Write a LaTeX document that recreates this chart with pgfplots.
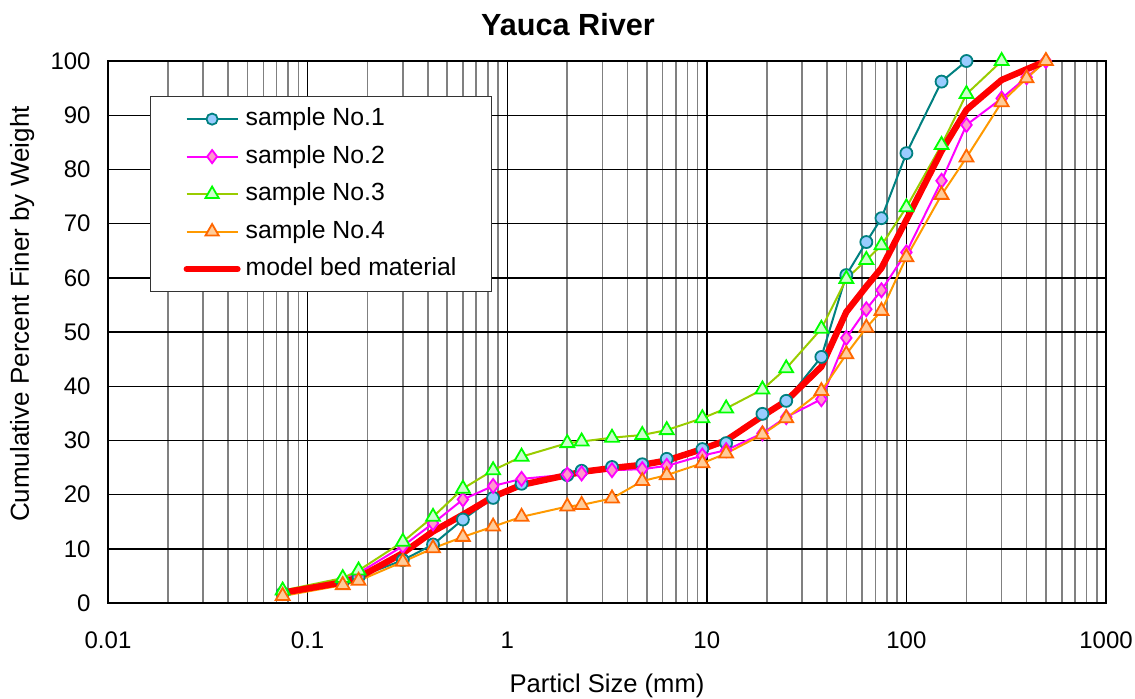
\documentclass[border=0pt]{standalone}
\usepackage{pgfplots}
\pgfplotsset{compat=1.18}
\usepackage{pgfplotstable}
\usepackage{fontspec}
\setmainfont{Liberation Sans}

\definecolor{oneL}{HTML}{008080}
\definecolor{oneF}{HTML}{99CCFF}
\definecolor{twoL}{HTML}{FF00FF}
\definecolor{twoF}{HTML}{FF99CC}
\definecolor{thrL}{HTML}{99CC00}
\definecolor{thrE}{HTML}{00FF00}
\definecolor{thrF}{HTML}{CCFFCC}
\definecolor{fouL}{HTML}{FF9900}
\definecolor{fouE}{HTML}{FF6600}
\definecolor{fouF}{HTML}{FFCC99}
\definecolor{gridgray}{HTML}{808080}

\pgfplotstableread{
x y
0.075 1.8
0.15 3.9
0.18 4.8
0.3 7.9
0.425 10.8
0.6 15.4
0.85 19.4
1.18 22.0
2 23.6
2.36 24.4
3.35 25.1
4.75 25.6
6.3 26.6
9.5 28.4
12.5 29.5
19 34.9
25 37.3
37.5 45.4
50 60.5
63 66.6
75 71.0
100 83.0
150 96.2
200 100
}\sone

\pgfplotstableread{
x y
0.075 1.9
0.15 4.3
0.18 5.5
0.3 10.5
0.425 14.7
0.6 19.1
0.85 21.6
1.18 22.9
2 23.7
2.36 23.9
3.35 24.5
4.75 24.7
6.3 25.3
9.5 27.2
12.5 28.2
19 31.3
25 34.3
37.5 37.6
50 48.9
63 54.2
75 57.7
100 64.7
150 77.9
200 88.2
300 93.1
400 97.0
500 100
}\stwo

\pgfplotstableread{
x y
0.075 2.3
0.15 4.6
0.18 6.0
0.3 11.3
0.425 15.9
0.6 21.1
0.85 24.5
1.18 27.0
2 29.5
2.36 29.8
3.35 30.5
4.75 31.0
6.3 31.9
9.5 34.1
12.5 35.9
19 39.4
25 43.3
37.5 50.6
50 59.8
63 63.3
75 66.0
100 73.0
150 84.5
200 93.9
300 100
}\sthree

\pgfplotstableread{
x y
0.075 1.3
0.15 3.3
0.18 4.1
0.3 7.6
0.425 10.1
0.6 12.2
0.85 14.1
1.18 15.9
2 17.8
2.36 18.1
3.35 19.3
4.75 22.5
6.3 23.6
9.5 25.8
12.5 27.6
19 31.1
25 34.1
37.5 39.1
50 45.9
63 50.8
75 53.9
100 63.8
150 75.3
200 82.2
300 92.4
400 96.8
500 100
}\sfour

\pgfplotstableread{
x y
0.075 1.9
0.15 3.8
0.18 4.7
0.3 9.2
0.425 13.2
0.6 16.3
0.85 19.6
1.18 21.8
2 23.6
2.36 24.2
3.35 24.9
4.75 25.5
6.3 26.3
9.5 28.4
12.5 30.0
19 34.5
25 37.3
37.5 43.6
50 53.7
63 58.4
75 61.8
100 70.7
150 83.4
200 91.0
300 96.5
500 100
}\smodel

\begin{document}
\begin{tikzpicture}
\begin{axis}[
  name=ax,
  scale only axis,
  width=499pt, height=271pt,
  xmode=log, log basis x=10,
  xmin=0.01, xmax=1000, ymin=0, ymax=100,
  xtick={0.01,0.1,1,10,100,1000},
  xticklabels={0.01,0.1,1,10,100,1000},
  minor xtick={0.02,0.03,0.04,0.05,0.06,0.07,0.08,0.09,
               0.2,0.3,0.4,0.5,0.6,0.7,0.8,0.9,
               2,3,4,5,6,7,8,9,
               20,30,40,50,60,70,80,90,
               200,300,400,500,600,700,800,900},
  ytick={0,10,...,100},
  minor y tick num=0,
  grid=both,
  major grid style={black, line width=0.7pt},
  minor grid style={gridgray, line width=0.8pt},
  axis line style={black, line width=1pt},
  major tick length=0pt, minor tick length=0pt,
  /pgf/number format/assume math mode=true,
  ticklabel style={font=\fontsize{12}{14}\selectfont, inner sep=0pt},
  xticklabel style={anchor=base, yshift=-22.5pt},
  yticklabel style={anchor=east, xshift=-8.5pt},
  title={Yauca River},
  title style={at={(axis description cs:0.4609,1)}, anchor=base, yshift=7pt, font=\bfseries\fontsize{15.3}{18}\selectfont, inner sep=0pt},
  xlabel={Particl Size (mm)},
  xlabel style={at={(axis description cs:0.5,0)}, anchor=base, yshift=-44.5pt, font=\fontsize{12.8}{15}\selectfont, inner sep=0pt},
  ylabel={Cumulative Percent Finer by Weight},
  ylabel style={at={(axis description cs:-0.0792,0.533)}, anchor=base, font=\fontsize{13}{15}\selectfont, inner sep=0pt},
  clip=false,
  legend image code/.code={\draw[mark repeat=2,mark phase=2] plot coordinates {(0pt,0pt)(12.75pt,0pt)(25.5pt,0pt)};},
  legend style={at={(axis description cs:0.0421,0.9354)}, anchor=north west,
    draw=black!80, line width=0.6pt, fill=white,
    inner xsep=16.5pt, inner ysep=4.5pt, row sep=5.25pt,
    font=\fontsize{12.4}{14}\selectfont,
    nodes={inner sep=1pt, text height=9pt, text depth=2.5pt},
    /tikz/every odd column/.append style={column sep=1.5pt}},
  legend cell align=left,
]
% legend entries
\addlegendimage{oneL, line width=1pt, mark=*, mark size=2.8pt, mark options={fill=oneF, draw=oneL, line width=0.9pt}}
\addlegendentry{sample No.1}
\addlegendimage{twoL, line width=1pt, mark=diamond*, mark size=3.3pt, mark options={fill=twoF, draw=twoL, line width=0.9pt}}
\addlegendentry{sample No.2}
\addlegendimage{thrL, line width=1pt, mark=triangle*, mark size=3.8pt, mark options={fill=thrF, draw=thrE, line width=0.9pt}}
\addlegendentry{sample No.3}
\addlegendimage{fouL, line width=1pt, mark=triangle*, mark size=3.8pt, mark options={fill=fouF, draw=fouE, line width=0.9pt}}
\addlegendentry{sample No.4}
\addlegendimage{red, line width=3pt, line cap=round}
\addlegendentry{model bed material}

% lines
\addplot[forget plot, oneL, line width=1pt, no markers] table {\sone};
\addplot[forget plot, twoL, line width=1pt, no markers] table {\stwo};
\addplot[forget plot, thrL, line width=1pt, no markers] table {\sthree};
\addplot[forget plot, fouL, line width=1pt, no markers] table {\sfour};
\addplot[forget plot, red, line width=3.2pt, line join=round, line cap=round, no markers] table {\smodel};
% markers
\addplot[forget plot, only marks, mark=*, mark size=3pt, mark options={fill=oneF, draw=oneL, line width=0.9pt}] table {\sone};
\addplot[forget plot, only marks, mark=diamond*, mark size=3.5pt, mark options={fill=twoF, draw=twoL, line width=0.9pt}] table {\stwo};
\addplot[forget plot, only marks, mark=triangle*, mark size=4pt, mark options={fill=thrF, draw=thrE, line width=0.9pt}] table {\sthree};
\addplot[forget plot, only marks, mark=triangle*, mark size=4pt, mark options={fill=fouF, draw=fouE, line width=0.9pt}] table {\sfour};
\end{axis}
\pgfresetboundingbox
\path ([shift={(-54pt,-47.5pt)}]ax.south west) rectangle ([shift={(14.5pt,30.5pt)}]ax.north east);
\end{tikzpicture}
\end{document}
